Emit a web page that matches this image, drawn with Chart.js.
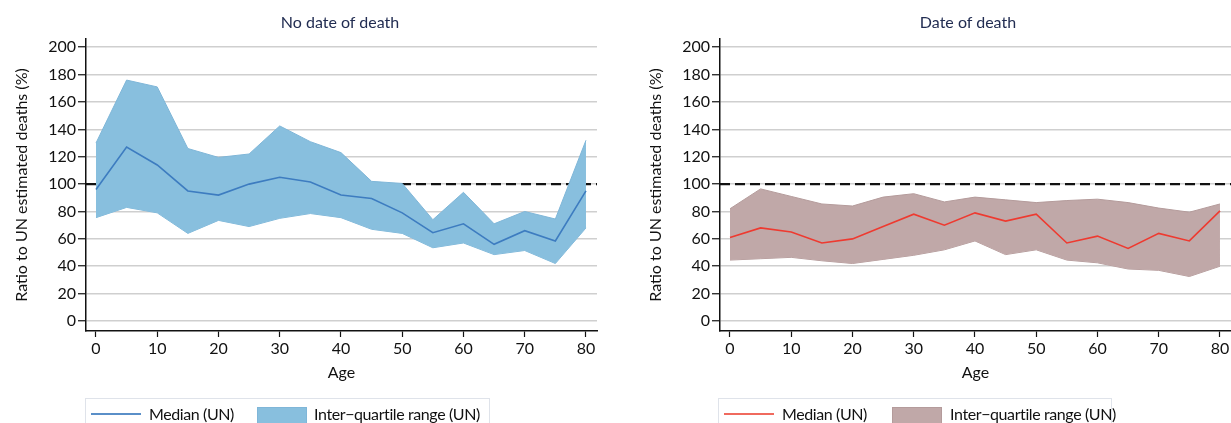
<!DOCTYPE html>
<html>
<head>
<meta charset="utf-8">
<script src="https://cdn.jsdelivr.net/npm/chart.js@4.4.1/dist/chart.umd.min.js"></script>
<style>
  body { margin: 0; width: 1231px; height: 423px; overflow: hidden; background: #fff; position: relative; font-family: Lato, sans-serif; }
  .panel { position: absolute; top: 0; width: 615px; height: 423px; }
  .title { position: absolute; top: 12px; width: 300px; text-align: center; font-size: 16px; color: #222d52; }
  .legend { position: absolute; top: 398px; height: 40px; border: 1px solid #dfe3ea; box-sizing: border-box; font-size: 16px; color: #111; }
  .legend .line { position: absolute; top: 14px; width: 50px; height: 0; border-top: 2px solid; }
  .legend .box { position: absolute; top: 8px; width: 50px; height: 20px; box-sizing: border-box; border: 1px solid; }
  .legend span { position: absolute; top: 5px; white-space: nowrap; letter-spacing: -0.4px; }
</style>
</head>
<body>
<div class="panel" style="left:0"><canvas id="noDateChart" width="615" height="423"></canvas></div>
<div class="panel" style="left:634px"><canvas id="dateChart" width="615" height="423"></canvas></div>

<div class="title" style="left:190px">No date of death</div>
<div class="title" style="left:818px">Date of death</div>

<div class="legend" style="left:85px;width:405px">
  <div class="line" style="left:5px;border-color:#5a8fc8"></div>
  <span style="left:63px">Median (UN)</span>
  <div class="box" style="left:171px;background:#88bfde;border-color:#7fb6d8"></div>
  <span style="left:228px">Inter−quartile range (UN)</span>
</div>
<div class="legend" style="left:718px;width:394px">
  <div class="line" style="left:5px;border-color:#f06a5e"></div>
  <span style="left:63px">Median (UN)</span>
  <div class="box" style="left:173px;background:#c0a8a8;border-color:#b49b9b"></div>
  <span style="left:231px">Inter−quartile range (UN)</span>
</div>

<script>
// Age groups (x axis)
const ages = [0, 5, 10, 15, 20, 25, 30, 35, 40, 45, 50, 55, 60, 65, 70, 75, 80];

// No date of death
const noDateMedian = [96, 127, 114, 95, 92, 100, 105, 101.5, 92, 89.5, 79, 64.5, 71, 56, 66, 58.5, 95];
const noDateUpper = [130, 176, 171, 126, 119.5, 122, 142.5, 131, 123, 102, 100.5, 74, 94, 71, 80, 74.5, 132];
const noDateLower = [75.5, 83, 79, 64, 73.5, 69, 75, 78.5, 75.5, 67, 64, 53.5, 57, 48.5, 51.5, 42, 68];

// Date of death
const dateMedian = [61, 68, 65, 57, 60, 69, 78, 70, 79, 73, 78, 57, 62, 53, 64, 58.5, 80.5];
const dateUpper = [82, 96.5, 91, 85.5, 84, 90.5, 93, 87, 90.5, 88.5, 86.5, 88, 89, 86.5, 82.5, 79.5, 85.5];
const dateLower = [44.5, 45.5, 46.5, 44, 42, 45, 48, 52, 58.5, 48.5, 52, 44.5, 42.5, 38, 37, 32.5, 40];

// Axis ticks
const yTicks = [0, 20, 40, 60, 80, 100, 120, 140, 160, 180, 200];
const xTicks = [0, 10, 20, 30, 40, 50, 60, 70, 80];
const refValue = 100;

const FONT = { family: 'Lato, sans-serif', size: 16 };

function toPoints(values) {
  return ages.map((a, i) => ({ x: a, y: values[i] }));
}

// Dashed line at 100%, drawn below the datasets
const refLinePlugin = {
  id: 'refLine',
  beforeDatasetsDraw(chart) {
    const { ctx, chartArea, scales } = chart;
    const y = scales.y.getPixelForValue(refValue);
    ctx.save();
    ctx.strokeStyle = '#111';
    ctx.lineWidth = 2.2;
    ctx.setLineDash([10, 5]);
    ctx.beginPath();
    ctx.moveTo(chartArea.left, y);
    ctx.lineTo(chartArea.right, y);
    ctx.stroke();
    ctx.restore();
  }
};

function createChart(id, median, upper, lower, lineColor, fillColor, edgeColor) {
  const ctx = document.getElementById(id);
  return new Chart(ctx, {
    type: 'line',
    data: {
      datasets: [
        {
          label: 'Median (UN)',
          data: toPoints(median),
          borderColor: lineColor,
          borderWidth: 1.6,
          pointRadius: 0,
          fill: false,
          order: 1
        },
        {
          label: 'Upper',
          data: toPoints(upper),
          borderColor: edgeColor,
          backgroundColor: fillColor,
          borderWidth: 1,
          pointRadius: 0,
          fill: '+1',
          order: 2
        },
        {
          label: 'Lower',
          data: toPoints(lower),
          borderColor: edgeColor,
          borderWidth: 1,
          pointRadius: 0,
          fill: false,
          order: 3
        }
      ]
    },
    options: {
      responsive: false,
      animation: false,
      layout: { padding: { top: 39, right: 18, bottom: 41, left: 0 } },
      plugins: {
        legend: { display: false },
        tooltip: { enabled: false }
      },
      scales: {
        x: {
          type: 'linear',
          min: -1.63,
          max: 81.8,
          afterBuildTicks: scale => { scale.ticks = xTicks.map(v => ({ value: v })); },
          afterFit: scale => { scale.height = 51; },
          ticks: { font: FONT, color: '#111', padding: 2, maxRotation: 0 },
          grid: { drawOnChartArea: false, tickLength: 6, tickColor: '#111', tickWidth: 1.2 },
          border: { color: '#111', width: 1.5 },
          title: { display: true, text: 'Age', font: FONT, color: '#111', padding: { top: 0, bottom: 0 } }
        },
        y: {
          min: -7.3,
          max: 206,
          afterBuildTicks: scale => { scale.ticks = yTicks.map(v => ({ value: v })); },
          afterFit: scale => { scale.width = 86; },
          ticks: { font: FONT, color: '#111', padding: 2 },
          grid: { color: '#cfcfcf', lineWidth: 1.5, tickLength: 8, tickColor: '#111', tickWidth: 1.2 },
          border: { color: '#111', width: 1.5 },
          title: { display: true, text: 'Ratio to UN estimated deaths (%)', font: FONT, color: '#111', padding: { top: 12, bottom: 0 } }
        }
      }
    },
    plugins: [refLinePlugin]
  });
}

createChart('noDateChart', noDateMedian, noDateUpper, noDateLower, '#3d7cc0', '#88bfde', '#7fb6d8');
createChart('dateChart', dateMedian, dateUpper, dateLower, '#ee3a30', '#c0a8a8', '#b49b9b');
</script>
</body>
</html>
